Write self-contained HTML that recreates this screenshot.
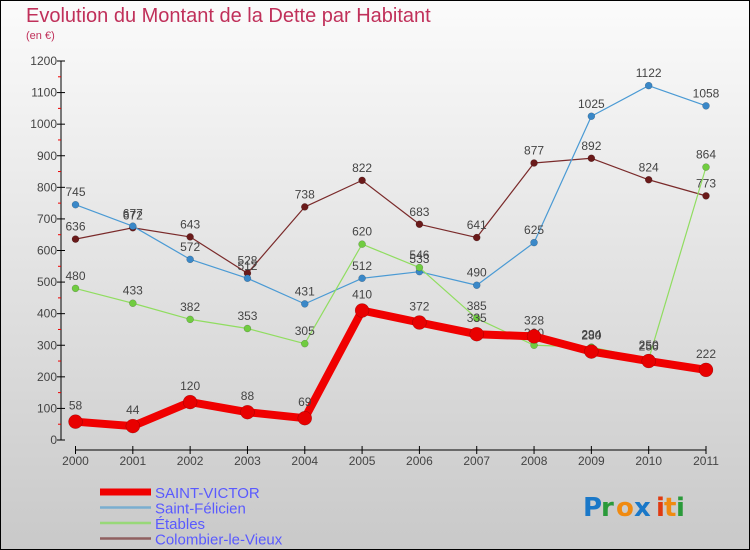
<!DOCTYPE html>
<html><head><meta charset="utf-8"><style>
body{margin:0}
svg{display:block;font-family:"Liberation Sans",sans-serif}
</style></head><body>
<svg id="c" width="750" height="550" xmlns="http://www.w3.org/2000/svg">
<defs><linearGradient id="bg" x1="0" y1="0" x2="0" y2="1"><stop offset="0" stop-color="#fbfbfb"/><stop offset="1" stop-color="#c9c9c9"/></linearGradient></defs>
<rect x="0.5" y="0.5" width="749" height="549" fill="url(#bg)" stroke="#000"/>
<text x="26" y="22" font-size="20" fill="#c0305a">Evolution du Montant de la Dette par Habitant</text>
<text x="26" y="39" font-size="11" fill="#c0305a">(en €)</text>
<g id="axes"></g><g id="series"></g><g id="legend"></g>
<g font-size="26" font-family="'DejaVu Sans',sans-serif" font-weight="bold">
<text x="583" y="516" fill="#1a78c8">P</text><text x="601" y="516" fill="#2a9a3a">r</text><text x="616" y="516" fill="#f08a10">o</text><text x="634" y="516" fill="#1a78c8">x</text><text x="656" y="516" fill="#e03a10">i</text><text x="664" y="516" fill="#f08a10">t</text><text x="676" y="516" fill="#2a9a3a">i</text></g>
</svg>
<script>
const years=[2000,2001,2002,2003,2004,2005,2006,2007,2008,2009,2010,2011];
const yTicks=[0,100,200,300,400,500,600,700,800,900,1000,1100,1200];
const saintVictor=[58,44,120,88,69,410,372,335,328,280,250,222];
const saintFelicien=[745,677,572,512,431,512,533,490,625,1025,1122,1058];
const etables=[480,433,382,353,305,620,546,385,300,294,256,864];
const colombier=[636,672,643,528,738,822,683,641,877,892,824,773];
const NS="http://www.w3.org/2000/svg";
const xS=i=>75.5+i*(706-75.5)/(years.length-1);
const yS=v=>440-v*(440-61)/1200;
function mk(tag,attrs,parent,text){const e=document.createElementNS(NS,tag);for(const k in attrs)e.setAttribute(k,attrs[k]);if(text!==undefined)e.textContent=text;parent.appendChild(e);return e;}
const ax=document.getElementById('axes');
let l=mk('line',{x1:61,y1:61,x2:61,y2:440,stroke:'#000'},ax);


l=mk('line',{x1:75.5,y1:450,x2:706,y2:450,stroke:'#000'},ax);


yTicks.forEach((t,i)=>{const y=yS(t);mk('line',{x1:57,y1:y,x2:65,y2:y,stroke:'#000'},ax);
if(i<yTicks.length-1)mk('line',{x1:58,y1:yS(t+50),x2:61,y2:yS(t+50),stroke:'#e00'},ax);
const tx=mk('text',{x:57,y:y+4,'font-size':12,fill:'#444','text-anchor':'end'},ax,t);

});
years.forEach((yr,i)=>{const x=xS(i);mk('line',{x1:x,y1:446,x2:x,y2:454,stroke:'#000'},ax);
const tx=mk('text',{x:x,y:465,'font-size':12,fill:'#444','text-anchor':'middle'},ax,yr);

});
const sg=document.getElementById('series');
function draw(data,color,dot,w,r,name){const g=mk('g',{},sg);


mk('polyline',{points:data.map((v,i)=>xS(i)+','+yS(v)).join(' '),fill:'none',stroke:color,'stroke-width':w,'stroke-linejoin':'round'},g);
data.forEach((v,i)=>{const c=mk('circle',{cx:xS(i),cy:yS(v),r:r,fill:dot,stroke:'rgba(0,0,0,0.3)','stroke-width':0.5},g);


mk('text',{x:xS(i),y:yS(v)-r-5,'font-size':12,fill:'#444','text-anchor':'middle'},g,v);});}
draw(colombier,'#7a2a2a','#6a1a1a',1.2,3.5,'series-colombier-le-vieux');
draw(saintFelicien,'#4a9ad4','#3a88c8',1.2,3.5,'series-saint-felicien');
draw(etables,'#90dd60','#70cc40',1.2,3.5,'series-etables');
draw(saintVictor,'#f00000','#e80000',8,7,'series-saint-victor');
const lg=document.getElementById('legend');
[['SAINT-VICTOR','#f00000',7],['Saint-Félicien','#7aaed0',2.5],['Étables','#98d878',2.5],['Colombier-le-Vieux','#906060',2.5]].forEach((d,i)=>{
const y=492+i*15.5;const g=mk('g',{},lg);


mk('line',{x1:100,y1:y,x2:151,y2:y,stroke:d[1],'stroke-width':d[2]},g);
mk('text',{x:155,y:y+6,'font-size':15,fill:'#5a5aff'},g,d[0]);});
</script>
</body></html>
